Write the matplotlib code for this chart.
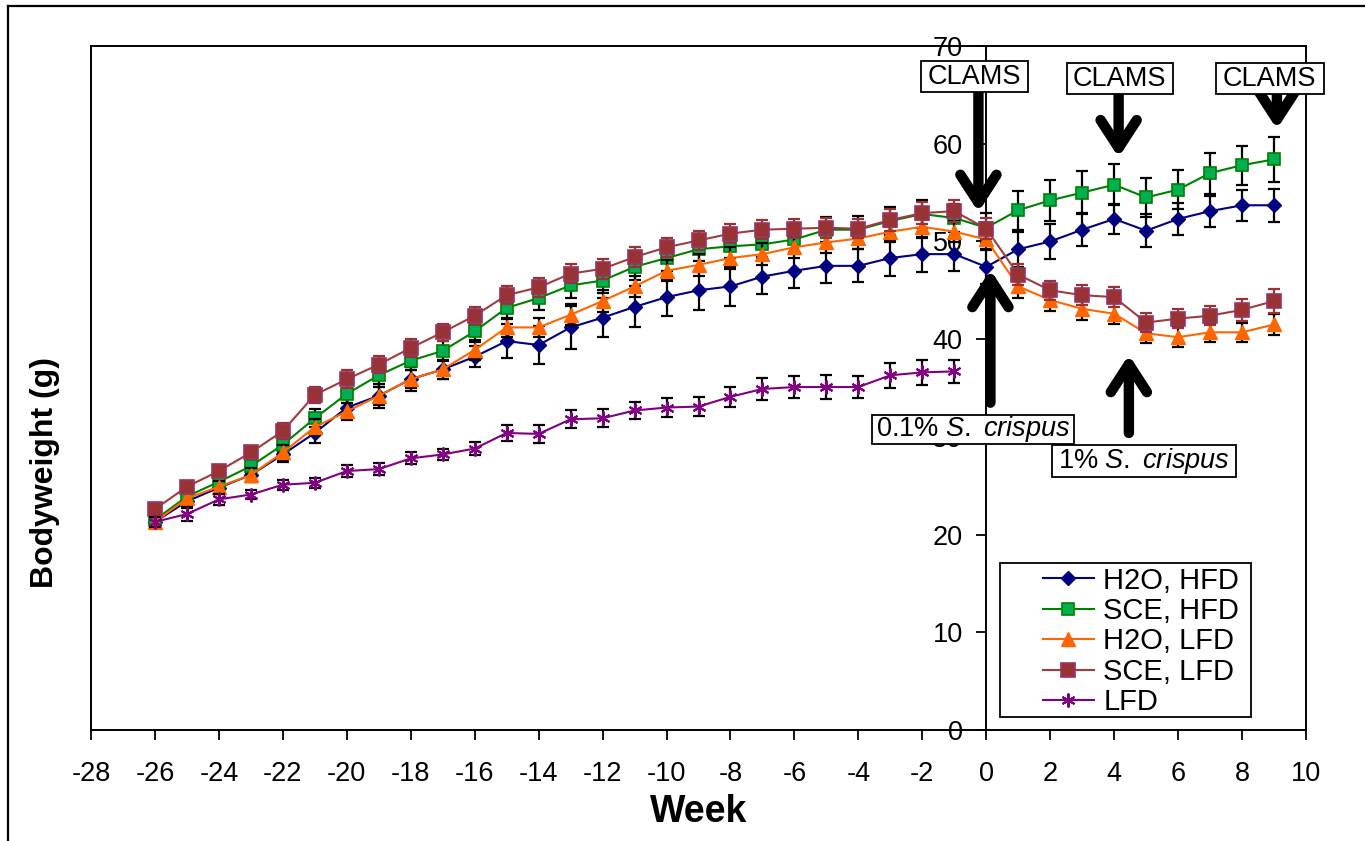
import matplotlib
matplotlib.use("Agg")
import matplotlib.pyplot as plt
from matplotlib.patches import Rectangle
from matplotlib.lines import Line2D

plt.rcParams['font.family'] = ['Liberation Sans', 'DejaVu Sans']
plt.rcParams['mathtext.fontset'] = 'custom'
plt.rcParams['mathtext.rm'] = 'Liberation Sans'
plt.rcParams['mathtext.it'] = 'Liberation Sans:italic'
plt.rcParams['axes.unicode_minus'] = False

# ---------------- data ----------------
weeks_all = list(range(-26, 10))      # -26 .. 9
weeks_lfd = list(range(-26, 0))       # -26 .. -1

h2o_hfd = [21.3, 23.4, 24.8, 26.1, 28.2, 30.4, 33.0, 34.2, 35.9, 36.9, 38.2, 39.8, 39.4,
           41.2, 42.2, 43.3, 44.3, 45.0, 45.4, 46.4, 47.0, 47.5, 47.5, 48.3, 48.7, 48.7,
           47.4, 49.2, 50.0, 51.2, 52.3, 51.1, 52.3, 53.1, 53.7, 53.7]
h2o_hfd_err = [0.5, 0.7, 0.6, 0.7, 0.8, 1.0, 1.2, 1.2, 1.2, 1.0, 1.1, 1.7, 1.9,
               2.2, 2.0, 2.1, 1.9, 2.0, 2.0, 1.8, 1.8, 1.8, 1.7, 1.8, 1.8, 1.7,
               1.8, 1.8, 1.8, 1.7, 1.5, 1.7, 1.6, 1.6, 1.6, 1.7]

sce_hfd = [21.5, 23.9, 25.4, 27.0, 29.2, 31.9, 34.4, 36.3, 37.8, 38.8, 40.8, 43.2, 44.2,
           45.5, 46.0, 47.4, 48.3, 49.2, 49.5, 49.7, 50.2, 51.2, 51.2, 52.1, 52.8, 52.4,
           51.4, 53.2, 54.2, 55.0, 55.8, 54.5, 55.3, 57.0, 57.8, 58.4]
sce_hfd_err = [0.5, 0.6, 0.6, 0.7, 0.8, 0.9, 0.9, 0.9, 1.0, 1.0, 1.1, 1.1, 1.2,
               1.3, 1.3, 1.3, 1.3, 1.2, 1.2, 1.3, 1.3, 1.3, 1.4, 1.4, 1.4, 1.4,
               1.5, 2.0, 2.1, 2.2, 2.1, 2.0, 2.0, 2.1, 2.0, 2.3]

h2o_lfd = [21.3, 23.7, 24.9, 26.1, 28.4, 31.0, 32.6, 34.2, 35.9, 36.9, 38.9, 41.2, 41.2,
           42.5, 43.9, 45.4, 47.0, 47.6, 48.3, 48.7, 49.4, 49.9, 50.3, 51.0, 51.5, 51.0,
           50.2, 45.4, 44.0, 43.1, 42.6, 40.6, 40.2, 40.7, 40.7, 41.5]
h2o_lfd_err = [0.5, 0.6, 0.6, 0.7, 0.8, 0.8, 0.9, 0.9, 0.9, 1.0, 1.0, 1.0, 1.0,
               1.1, 1.1, 1.1, 1.1, 1.1, 1.1, 1.1, 1.1, 1.1, 1.1, 1.1, 1.1, 1.1,
               1.1, 1.2, 1.1, 1.1, 1.1, 1.0, 1.0, 1.0, 1.0, 1.1]

sce_lfd = [22.6, 24.9, 26.5, 28.4, 30.6, 34.3, 35.9, 37.4, 39.1, 40.7, 42.4, 44.5, 45.3,
           46.7, 47.2, 48.4, 49.4, 50.1, 50.8, 51.2, 51.3, 51.4, 51.3, 52.2, 52.9, 53.1,
           51.3, 46.6, 45.0, 44.5, 44.3, 41.7, 42.1, 42.4, 43.0, 43.9]
sce_lfd_err = [0.5, 0.6, 0.6, 0.7, 0.8, 0.8, 0.9, 0.9, 0.9, 0.9, 0.9, 0.9, 1.0,
               1.0, 1.0, 1.0, 1.0, 1.0, 1.0, 1.0, 1.0, 1.0, 1.0, 1.1, 1.1, 1.1,
               1.1, 1.1, 1.0, 1.0, 1.0, 1.0, 1.0, 1.0, 1.1, 1.2]

lfd = [21.3, 22.1, 23.6, 24.1, 25.1, 25.3, 26.5, 26.7, 27.8, 28.2, 28.8, 30.4, 30.3,
       31.8, 31.9, 32.7, 33.0, 33.1, 34.1, 34.9, 35.1, 35.1, 35.1, 36.3, 36.6, 36.7]
lfd_err = [0.5, 0.7, 0.6, 0.5, 0.5, 0.5, 0.6, 0.6, 0.6, 0.6, 0.7, 0.8, 0.9,
           0.9, 0.9, 0.9, 1.0, 1.0, 1.0, 1.1, 1.1, 1.2, 1.1, 1.3, 1.3, 1.2]

labels = ['H2O, HFD', 'SCE, HFD', 'H2O, LFD', 'SCE, LFD', 'LFD']
x_ticks = list(range(-28, 11, 2))
y_ticks = list(range(0, 71, 10))

# annotation geometry (data coords)
clams_boxes = [(-2.03, 1.29, 65.29, 68.46), (2.51, 5.83, 65.08, 68.26), (7.18, 10.56, 65.08, 68.26)]
down_arrows = [((-0.245, 65.3), (-0.245, 53.0)), ((4.14, 65.1), (4.14, 58.6)), ((9.09, 65.1), (9.09, 61.5))]
crispus_boxes = [(-3.57, 2.73, 29.31, 32.28), (2.07, 7.81, 25.93, 29.21)]
crispus_texts = ['0.1% $\\mathit{S.\\ crispus}$', '1% $\\mathit{S.\\ crispus}$']
up_arrows = [((0.13, 33.5), (0.13, 47.1)), ((4.46, 30.4), (4.46, 38.4))]

# ---------------- figure ----------------
fig = plt.figure(figsize=(13.65, 8.41), dpi=100)
ax = fig.add_axes([91/1365, 111/841, 1215/1365, 684/841])

series = [
    (weeks_all, h2o_hfd, h2o_hfd_err, dict(color='#000080', marker='D', ms=7, mfc='#000080', mec='#000080'), 'k'),
    (weeks_all, sce_hfd, sce_hfd_err, dict(color='#008000', marker='s', ms=8.5, mfc='#00B050', mec='#008000', mew=1.2), 'k'),
    (weeks_all, h2o_lfd, h2o_lfd_err, dict(color='#FF6600', marker='^', ms=9.5, mfc='#FF6600', mec='#FF6600'), 'k'),
    (weeks_all, sce_lfd, sce_lfd_err, dict(color='#A03C3C', marker='s', ms=9.5, mfc='#993333', mec='#993366', mew=1.2), '#993333'),
    (weeks_lfd, lfd, lfd_err, dict(color='#800080', marker=(6, 2, 0), ms=10, mfc='#800080', mec='#800080', mew=1.5), 'k'),
]

handles = []
for i, (x, y, e, style, ecol) in enumerate(series):
    z = 3 + 2 * i
    ax.errorbar(x, y, yerr=e, fmt='none', ecolor=ecol, elinewidth=1.6, capsize=4.5,
                capthick=1.6, zorder=z)
    ln, = ax.plot(x, y, lw=1.5, label=labels[i], zorder=z + 1, **style)
    handles.append(ln)

ax.set_xlim(-28, 10)
ax.set_ylim(0, 70)
ax.set_xticks(x_ticks)
ax.set_yticks(y_ticks)

for s in ['top', 'right', 'bottom', 'left']:
    ax.spines[s].set_linewidth(1.4)
ax.spines['left'].set_position(('data', 0))
ax.axvline(-28, color='k', lw=1.4, clip_on=False, zorder=1)

ax.tick_params(axis='x', direction='out', length=7, width=1.3, pad=15, labelsize=19.5)
ax.tick_params(axis='y', direction='out', length=7, width=1.3, pad=10, labelsize=19.5)

ax.set_xlabel('Week', fontsize=27, fontweight='bold', labelpad=5)
ax.set_ylabel('Bodyweight (g)', fontsize=23, fontweight='bold')
ax.yaxis.set_label_coords(-0.0255, 0.377)

# legend
ax.add_patch(Rectangle((0.748, 0.019), 0.207, 0.225, transform=ax.transAxes,
                       fill=True, facecolor='white', edgecolor='k', lw=1.3, zorder=20))
leg = ax.legend(handles=handles, loc='upper left', bbox_to_anchor=(0.7835, 0.239),
                frameon=False, fontsize=21, borderpad=0, borderaxespad=0,
                handlelength=1.75, handletextpad=0.32, labelspacing=0.085)
leg.set_zorder(21)

# annotations: CLAMS boxes and arrows
arrow_style = '->,head_length=1.0,head_width=0.65'
for (x0, x1, y0, y1) in clams_boxes:
    ax.add_patch(Rectangle((x0, y0), x1 - x0, y1 - y0, facecolor='white', edgecolor='k',
                           lw=1.3, zorder=30, clip_on=False))
    ax.text((x0 + x1) / 2, (y0 + y1) / 2, 'CLAMS', ha='center', va='center', fontsize=19.5,
            zorder=31, clip_on=False)
for tail, tip in down_arrows + up_arrows:
    ax.annotate('', xy=tip, xytext=tail,
                arrowprops=dict(arrowstyle=arrow_style, lw=7.5, color='k',
                                mutation_scale=20, shrinkA=0, shrinkB=0),
                zorder=29, annotation_clip=False)
for (x0, x1, y0, y1), t in zip(crispus_boxes, crispus_texts):
    ax.add_patch(Rectangle((x0, y0), x1 - x0, y1 - y0, facecolor='white', edgecolor='k',
                           lw=1.3, zorder=30, clip_on=False))
    ax.text((x0 + x1) / 2, (y0 + y1) / 2, t, ha='center', va='center', fontsize=19.5,
            zorder=31, clip_on=False)

# figure border (top and left)
fig.add_artist(Line2D([8/1365, 1], [1 - 6/841, 1 - 6/841], transform=fig.transFigure, color='k', lw=1.6))
fig.add_artist(Line2D([8/1365, 8/1365], [0, 1 - 6/841], transform=fig.transFigure, color='k', lw=1.6))

fig.savefig('out.png', dpi=100, facecolor='white')
